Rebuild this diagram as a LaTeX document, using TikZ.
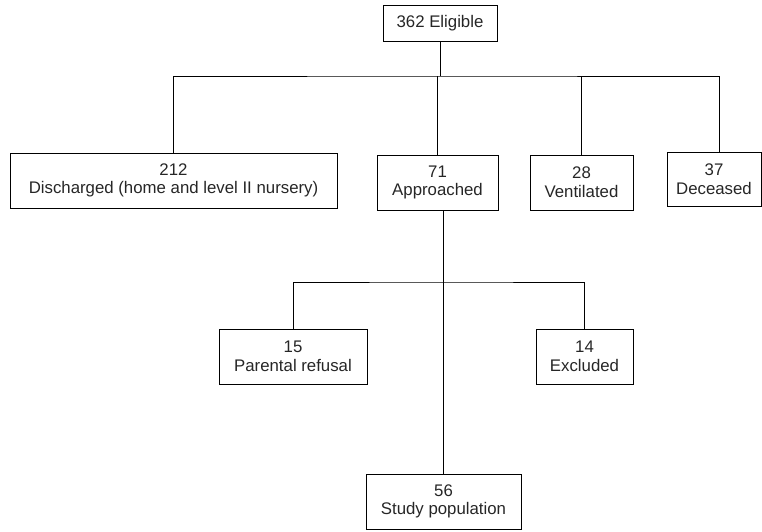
\documentclass[tikz,border=0pt]{standalone}
\usepackage{fontspec}
\setmainfont{Liberation Sans}
\usetikzlibrary{positioning}

\begin{document}
\begin{tikzpicture}[
  x=0.75pt, y=-0.75pt,
  line width=0.6pt,
  box/.style={draw, align=center, inner sep=0pt, minimum height=41.25pt,
    font=\fontsize{12.6}{14}\selectfont, text=black!85}
  ]
\useasboundingbox (0,0) rectangle (762,531);
\node [box, minimum width=85.5pt, minimum height=27pt] (elig) at (440,23) {362 Eligible};
\node [box, minimum width=245.25pt] (disch) at (173.5,180.5) {212\\Discharged (home and level II nursery)};
\node [box, minimum width=90.75pt] (appr) at (437.5,182.5) {71\\Approached};
\node [box, minimum width=77.25pt] (venti) at (581.5,182.5) {28\\Ventilated};
\node [box, minimum width=70.5pt, minimum height=40.5pt] (decea) at (714,179) {37\\Deceased};
\node [box, minimum width=111pt] (paren) at (293,356.5) {15\\Parental refusal};
\node [box, minimum width=72.75pt] (excl) at (584.5,356.5) {14\\Excluded};
\node [box, minimum width=116.25pt] (study) at (443.5,501.5) {56\\Study population};
\coordinate (topbus) at (438,76);
\coordinate (lowbus) at (443.5,282);
\coordinate (deceatop) at ([xshift=3.75pt]decea.north);
% first split
\draw (elig.south) -- (elig.south |- topbus);
\draw (disch.north) |- (topbus) -| (deceatop);
\draw (appr.north) -- (appr.north |- topbus);
\draw (venti.north) -- (venti.north |- topbus);
% second split
\draw (study.north) -- (study.north |- appr.south);
\draw (paren.north) |- (lowbus) -| (excl.north);
\end{tikzpicture}
\end{document}
